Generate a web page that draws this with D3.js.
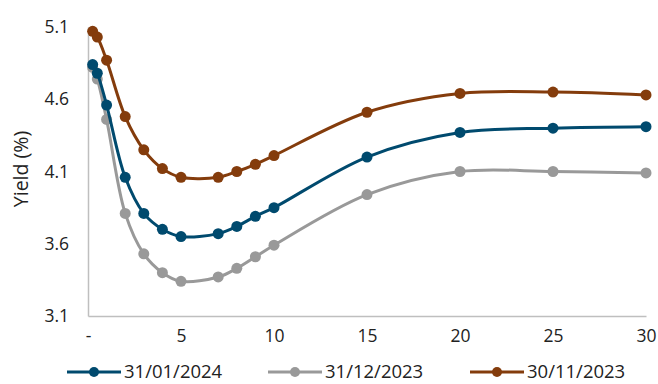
<!DOCTYPE html>
<html>
<head>
<meta charset="utf-8">
<script src="https://cdn.jsdelivr.net/npm/d3@7"></script>
<style>
  body { margin: 0; background: #fff; }
  svg text { font-family: "Open Sans", sans-serif; fill: #222; }
</style>
</head>
<body>
<div id="chart"></div>
<script>
// Maturities in years
const maturities = [0.25, 0.5, 1, 2, 3, 4, 5, 7, 8, 9, 10, 15, 20, 25, 30];

// Yields (%)
const jan2024 = [4.84, 4.78, 4.56, 4.06, 3.81, 3.70, 3.65, 3.67, 3.72, 3.79, 3.85, 4.20, 4.37, 4.40, 4.41];
const dec2023 = [4.82, 4.74, 4.46, 3.81, 3.53, 3.40, 3.34, 3.37, 3.43, 3.51, 3.59, 3.94, 4.10, 4.10, 4.09];
const nov2023 = [5.07, 5.03, 4.87, 4.48, 4.25, 4.12, 4.06, 4.06, 4.10, 4.15, 4.21, 4.51, 4.64, 4.65, 4.63];

const seriesNames = ["31/01/2024", "31/12/2023", "30/11/2023"];
const seriesColors = ["#004a6e", "#999999", "#843c0c"];
const seriesValues = [jan2024, dec2023, nov2023];

const xTicks = [0, 5, 10, 15, 20, 25, 30];
const yTicks = [3.1, 3.6, 4.1, 4.6, 5.1];

const width = 658, height = 384;
const margin = {top: 27, right: 12, bottom: 68, left: 88};

const svg = d3.select("#chart")
    .append("svg")
    .attr("width", width)
    .attr("height", height);

const x = d3.scaleLinear()
    .domain([0, 30])
    .range([margin.left, width - margin.right]);

const y = d3.scaleLinear()
    .domain([3.1, 5.1])
    .range([height - margin.bottom, margin.top]);

// Axes: plain grey lines, no tick marks
const xAxis = svg.append("g")
    .attr("transform", `translate(0,${height - margin.bottom})`)
    .call(d3.axisBottom(x)
        .tickValues(xTicks)
        .tickSize(0)
        .tickPadding(14)
        .tickFormat(d => d === 0 ? "-" : d));
xAxis.select(".domain").attr("stroke", "#bfbfbf").attr("stroke-width", 1.5);
xAxis.selectAll("text").attr("font-size", 17.5).attr("font-family", "Open Sans");

const yAxis = svg.append("g")
    .attr("transform", `translate(${margin.left},0)`)
    .call(d3.axisLeft(y)
        .tickValues(yTicks)
        .tickSize(0)
        .tickPadding(19)
        .tickFormat(d3.format(".1f")));
yAxis.select(".domain").attr("stroke", "#bfbfbf").attr("stroke-width", 1.5);
yAxis.selectAll("text").attr("font-size", 17.5).attr("font-family", "Open Sans");

// Y-axis label
svg.append("text")
    .attr("transform", "translate(28,169) rotate(-90)")
    .attr("text-anchor", "middle")
    .attr("font-family", "'Liberation Sans', Arial, sans-serif")
    .attr("font-size", 19.5)
    .text("Yield (%)");

const line = d3.line()
    .x(d => x(d.m))
    .y(d => y(d.v))
    .curve(d3.curveCatmullRom.alpha(0.5));

// Draw oldest first so the latest sits on top
[2, 1, 0].forEach(i => {
    const data = maturities.map((m, j) => ({m: m, v: seriesValues[i][j]}));
    const g = svg.append("g");
    g.append("path")
        .datum(data)
        .attr("d", line)
        .attr("fill", "none")
        .attr("stroke", seriesColors[i])
        .attr("stroke-width", 3);
    g.selectAll("circle")
        .data(data)
        .enter()
        .append("circle")
        .attr("cx", d => x(d.m))
        .attr("cy", d => y(d.v))
        .attr("r", 5.5)
        .attr("fill", seriesColors[i]);
});

// Legend
const legendX = [67, 268, 470];
const legend = svg.append("g").attr("transform", "translate(0,372)");
seriesNames.forEach((name, i) => {
    const item = legend.append("g").attr("transform", `translate(${legendX[i]},0)`);
    item.append("line")
        .attr("x1", 0).attr("x2", 54)
        .attr("stroke", seriesColors[i])
        .attr("stroke-width", 3);
    item.append("circle")
        .attr("cx", 27)
        .attr("r", 5)
        .attr("fill", seriesColors[i]);
    item.append("text")
        .attr("x", 57)
        .attr("dy", "0.35em")
        .attr("font-size", 18.5)
        .text(name);
});
</script>
</body>
</html>
